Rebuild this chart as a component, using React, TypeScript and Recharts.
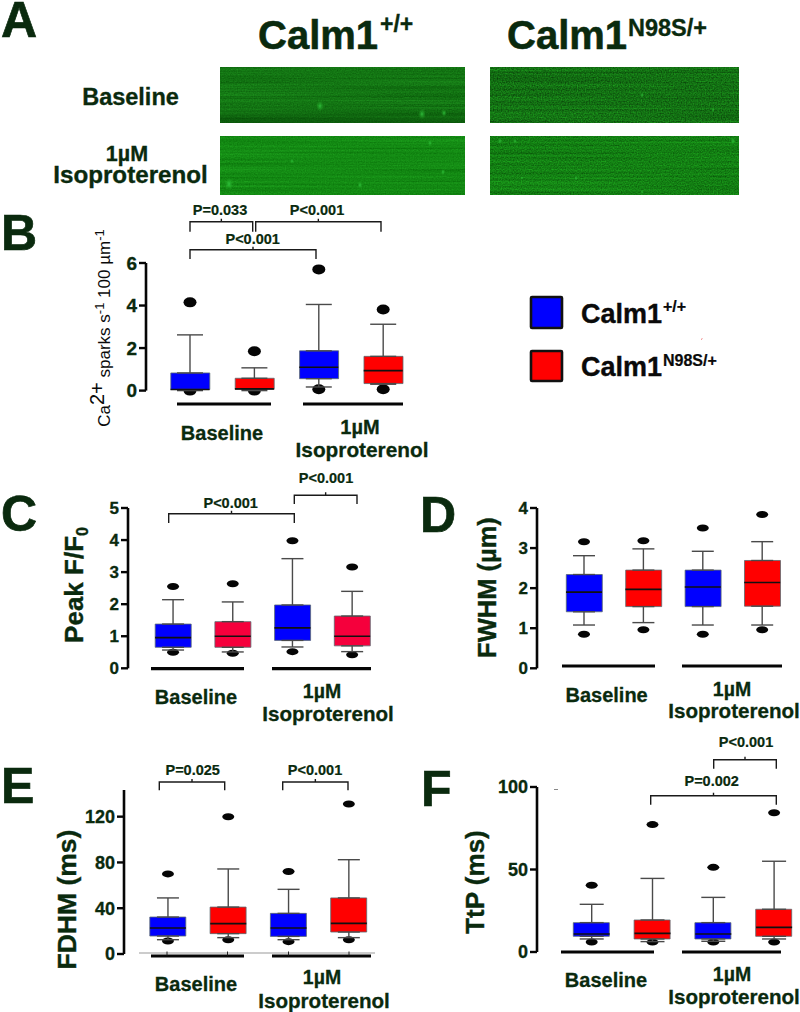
import React from 'react';
import { ComposedChart, Bar, Cell, Line, XAxis, YAxis, ErrorBar } from 'recharts';

const INK = '#0a2a0e';
const FONT = '"Liberation Sans", Arial, sans-serif';
const BLUE = '#0000ff';
const RED = '#ff0000';
const CRIMSON = '#f5003c';

const groups = ['Baseline +/+', 'Baseline N98S/+', 'Iso +/+', 'Iso N98S/+'];

// B: Ca2+ sparks
const sparkQ1 = [0.05, 0.06, 0.56, 0.33];
const sparkMedian = [0.05, 0.08, 1.1, 0.94];
const sparkQ3 = [0.83, 0.58, 1.87, 1.61];
const sparkLow = [0, 0, 0.17, 0.3];
const sparkHigh = [2.62, 1.07, 4.05, 3.12];
const sparkOutLow = [0, 0, 0.06, 0.06];
const sparkOutHigh = [4.15, 1.85, 5.7, 3.81];

// C: Peak F/F0
const peakQ1 = [0.655, 0.655, 0.87, 0.7];
const peakMedian = [0.956, 1.0, 1.26, 1.0];
const peakQ3 = [1.38, 1.455, 1.975, 1.63];
const peakLow = [0.57, 0.51, 0.665, 0.52];
const peakHigh = [2.14, 2.07, 3.42, 2.4];
const peakOutLow = [0.5, 0.47, 0.52, 0.42];
const peakOutHigh = [2.55, 2.64, 3.98, 3.16];

// D: FWHM
const fwhmQ1 = [1.41, 1.54, 1.54, 1.55];
const fwhmMedian = [1.9, 1.97, 2.03, 2.14];
const fwhmQ3 = [2.34, 2.45, 2.45, 2.69];
const fwhmLow = [1.08, 1.14, 1.08, 1.08];
const fwhmHigh = [2.81, 2.98, 2.92, 3.16];
const fwhmOutLow = [0.85, 0.96, 0.85, 0.96];
const fwhmOutHigh = [3.16, 3.185, 3.5, 3.84];

// E: FDHM
const fdhmQ1 = [15.7, 17.8, 15.4, 19.2];
const fdhmMedian = [22.7, 26.5, 22.7, 26.8];
const fdhmQ3 = [32.3, 41, 35.5, 49];
const fdhmLow = [12.5, 14.3, 12.5, 14.3];
const fdhmHigh = [49, 74.3, 56.5, 82.4];
const fdhmOutLow = [11.4, 12.5, 10.8, 12.5];
const fdhmOutHigh = [70, 120, 72, 131];

// F: TtP
const ttpQ1 = [9.5, 7.9, 7.9, 9.5];
const ttpMedian = [10.9, 11.3, 10.9, 14.9];
const ttpQ3 = [17.8, 19.4, 17.8, 25.9];
const ttpLow = [7.9, 6.3, 6.5, 7.9];
const ttpHigh = [28.9, 44.6, 33.1, 55];
const ttpOutLow = [6.1, 6, 6.1, 6];
const ttpOutHigh = [40.4, 77.2, 51.3, 84.4];

const makeRows = (q1, median, q3, low, high, outLow, outHigh) =>
  groups.map((group, i) => ({
    group,
    box: [q1[i], q3[i]],
    q1: q1[i],
    q3: q3[i],
    median: median[i],
    lowerWhisker: [q1[i] - low[i], 0],
    upperWhisker: [0, high[i] - q3[i]],
    outLow: outLow[i],
    outHigh: outHigh[i],
  }));

const panels = [
  {
    id: 'B', rows: makeRows(sparkQ1, sparkMedian, sparkQ3, sparkLow, sparkHigh, sparkOutLow, sparkOutHigh),
    domain: [0, 6], ticks: [0, 2, 4, 6], axisX: 146, top: 262.7, bottom: 390.3, band: 64.4, pad: 11.8,
    boxW: 39, cap: 13, rx: 6.5, ry: 5, fontSize: 19, fills: [BLUE, RED, BLUE, RED],
  },
  {
    id: 'C', rows: makeRows(peakQ1, peakMedian, peakQ3, peakLow, peakHigh, peakOutLow, peakOutHigh),
    domain: [0, 5], ticks: [0, 1, 2, 3, 4, 5], axisX: 128, top: 507.7, bottom: 668, band: 59.7, pad: 15.2,
    boxW: 36, cap: 11, rx: 6, ry: 3.5, fontSize: 17, fills: [BLUE, CRIMSON, BLUE, CRIMSON],
  },
  {
    id: 'D', rows: makeRows(fwhmQ1, fwhmMedian, fwhmQ3, fwhmLow, fwhmHigh, fwhmOutLow, fwhmOutHigh),
    domain: [0, 4], ticks: [0, 1, 2, 3, 4], axisX: 537, top: 507.7, bottom: 668, band: 59.4, pad: 17.3,
    boxW: 36, cap: 11, rx: 6, ry: 3.5, fontSize: 17, fills: [BLUE, RED, BLUE, RED],
  },
  {
    id: 'E', rows: makeRows(fdhmQ1, fdhmMedian, fdhmQ3, fdhmLow, fdhmHigh, fdhmOutLow, fdhmOutHigh),
    domain: [0, 143.3], ticks: [0, 40, 80, 120], axisX: 124, top: 790, bottom: 954, band: 60.3, pad: 13.8,
    boxW: 36, cap: 11, rx: 6, ry: 3.5, fontSize: 18, fills: [BLUE, RED, BLUE, RED],
  },
  {
    id: 'F', rows: makeRows(ttpQ1, ttpMedian, ttpQ3, ttpLow, ttpHigh, ttpOutLow, ttpOutHigh),
    domain: [0, 100], ticks: [0, 50, 100], axisX: 537, top: 787, bottom: 952, band: 60.8, pad: 24.3,
    boxW: 36, cap: 12, rx: 6, ry: 3.5, fontSize: 18, fills: [BLUE, RED, BLUE, RED],
  },
];

const AXIS_W = 50;
const layer = { position: 'absolute', left: 0, top: 0 };

const BoxPanel = ({ p }) => {
  const outlier = (props) => (
    <ellipse key={props.index} cx={props.cx} cy={props.cy} rx={p.rx} ry={p.ry} fill="#050505" />
  );
  const medianTick = (props) => (
    <line key={props.index} x1={props.cx - p.boxW / 2} x2={props.cx + p.boxW / 2} y1={props.cy} y2={props.cy} stroke="#111" strokeWidth={1.6} />
  );
  const height = p.bottom - p.top + 20;
  const width = AXIS_W + p.pad + p.band * 4 + 5;
  const xAxis = <XAxis dataKey="group" hide scale="band" padding={{ left: p.pad, right: 0 }} />;
  return (
    <div style={{ position: 'absolute', left: p.axisX - AXIS_W, top: p.top - 10 }}>
      {/* outliers sit in their own layer so the boxes cover them, lines always paint above bars */}
      <div style={layer}>
        <ComposedChart width={width} height={height} data={p.rows} margin={{ top: 10, right: 5, bottom: 10, left: AXIS_W }}>
          {xAxis}
          <YAxis hide type="number" domain={p.domain} />
          <Line dataKey="outHigh" stroke="none" dot={outlier} activeDot={false} isAnimationActive={false} />
          <Line dataKey="outLow" stroke="none" dot={outlier} activeDot={false} isAnimationActive={false} />
        </ComposedChart>
      </div>
      <div style={layer}>
        <ComposedChart width={width} height={height} data={p.rows} margin={{ top: 10, right: 5, bottom: 10, left: 0 }}>
          {xAxis}
          <YAxis
            width={AXIS_W}
            type="number"
            domain={p.domain}
            ticks={p.ticks}
            interval={0}
            tickSize={7}
            tickMargin={2}
            axisLine={{ stroke: '#050505', strokeWidth: 2.6 }}
            tickLine={{ stroke: '#050505', strokeWidth: 2.4 }}
            tick={{ fill: INK, stroke: INK, strokeWidth: 0.3, fontSize: p.fontSize, fontWeight: 700, fontFamily: FONT }}
          />
          <Bar dataKey="box" barSize={p.boxW} stroke="#5a6a70" strokeWidth={0.8} isAnimationActive={false}>
            {p.rows.map((r, i) => (
              <Cell key={r.group} fill={p.fills[i]} />
            ))}
          </Bar>
          <Line dataKey="q3" stroke="none" dot={false} activeDot={false} isAnimationActive={false}>
            <ErrorBar dataKey="upperWhisker" direction="y" width={p.cap} stroke="#4a4a4a" strokeWidth={1.4} isAnimationActive={false} />
          </Line>
          <Line dataKey="q1" stroke="none" dot={false} activeDot={false} isAnimationActive={false}>
            <ErrorBar dataKey="lowerWhisker" direction="y" width={p.cap} stroke="#4a4a4a" strokeWidth={1.4} isAnimationActive={false} />
          </Line>
          <Line dataKey="median" stroke="none" dot={medianTick} activeDot={false} isAnimationActive={false} />
        </ComposedChart>
      </div>
    </div>
  );
};

const Txt = ({ x, y, size = 14.5, anchor = 'middle', fill = INK, weight = 700, children, ...rest }) => (
  <text
    x={x}
    y={y}
    fontSize={size}
    textAnchor={anchor}
    fill={fill}
    fontWeight={weight}
    fontFamily={FONT}
    stroke={weight === 700 ? fill : 'none'}
    strokeWidth={size * 0.014}
    {...rest}
  >
    {children}
  </text>
);

const Bracket = ({ x1, x2, top, drop, label, labelX, labelY }) => (
  <g>
    <path d={`M${x1} ${drop}V${top}H${x2}V${drop}M${(x1 + x2) / 2} ${top}v-3`} fill="none" stroke="#1a1a1a" strokeWidth={1.4} />
    <Txt x={labelX} y={labelY}>{label}</Txt>
  </g>
);

const GroupLabels = ({ base, baseY, mum, mumY, iso, isoY }) => (
  <g>
    <Txt x={base} y={baseY} size={20}>Baseline</Txt>
    <Txt x={mum} y={mumY} size={19.5}>1µM</Txt>
    <Txt x={iso} y={isoY} size={20.6}>Isoproterenol</Txt>
  </g>
);

const GroupRule = ({ x1, x2, y }) => <line x1={x1} x2={x2} y1={y} y2={y} stroke="#050505" strokeWidth={3.2} />;

const spotsByScan = [
  [[320, 106, 5], [422, 114, 5], [444, 113, 3.5]],
  [[642, 95, 2.5], [713, 110, 2]],
  [[430, 143, 3], [292, 161, 2.5], [443, 172, 3], [229, 184, 6], [360, 185, 3.5]],
  [[500, 141, 3], [515, 141, 2.5], [733, 141, 3.5], [576, 178, 2.5], [522, 178, 1.8], [642, 192, 2]],
];

const scans = [
  { x: 220, y: 67, w: 245, h: 56, seed: 3, target: 0.46, gain: 0.4, streak: 0.5, shade: true },
  { x: 490, y: 67, w: 249, h: 56, seed: 8, target: 0.44, gain: 0.7, streak: 0.35, shade: false },
  { x: 220, y: 136, w: 245, h: 59, seed: 12, target: 0.54, gain: 0.35, streak: 0.5, shade: false },
  { x: 490, y: 136, w: 249, h: 59, seed: 21, target: 0.5, gain: 0.6, streak: 0.35, shade: false },
];

const LineScan = ({ scan, spots, i }) => (
  <g>
    <defs>
      <filter id={`scan${i}`} x="0" y="0" width="1" height="1" colorInterpolationFilters="sRGB">
        <feTurbulence type="fractalNoise" baseFrequency="0.003 0.5" numOctaves={2} seed={scan.seed} result="s" />
        <feTurbulence type="fractalNoise" baseFrequency="0.75" numOctaves={1} seed={scan.seed + 1} result="n" />
        <feComposite in="s" in2="n" operator="arithmetic" k1={0} k2={scan.streak} k3={1 - scan.streak} k4={0} result="m" />
        <feColorMatrix
          in="m"
          type="matrix"
          values={`0 0.15 0 0 0  0 ${scan.gain} 0 0 ${scan.target - scan.gain * 0.5}  0 0.15 0 0 0  0 0 0 0 1`}
        />
      </filter>
    </defs>
    <rect x={scan.x} y={scan.y} width={scan.w} height={scan.h} fill="#128012" filter={`url(#scan${i})`} />
    {scan.shade && <rect x={scan.x} y={scan.y + scan.h - 16} width={scan.w} height={16} fill="url(#scanShade)" />}
    {spots.map(([cx, cy, r]) => (
      <ellipse key={`${cx}-${cy}`} cx={cx} cy={cy} rx={r * 0.8} ry={r * 1.1} fill="url(#spot)" />
    ))}
  </g>
);

const Overlay = () => (
  <svg width={800} height={1012} style={{ position: 'absolute', left: 0, top: 0 }}>
    <defs>
      <radialGradient id="spot">
        <stop offset="0%" stopColor="#35d045" stopOpacity={0.8} />
        <stop offset="100%" stopColor="#20a020" stopOpacity={0} />
      </radialGradient>
      <linearGradient id="scanShade" x1="0" y1="0" x2="0" y2="1">
        <stop offset="0%" stopColor="#003000" stopOpacity={0} />
        <stop offset="100%" stopColor="#003000" stopOpacity={0.4} />
      </linearGradient>
    </defs>

    <Txt x={1} y={37} size={50} anchor="start">A</Txt>
    <Txt x={1} y={250} size={50} anchor="start">B</Txt>
    <Txt x={1} y={531} size={50} anchor="start">C</Txt>
    <Txt x={420} y={532} size={50} anchor="start">D</Txt>
    <Txt x={1} y={803} size={50} anchor="start">E</Txt>
    <Txt x={421} y={806} size={50} anchor="start">F</Txt>

    <Txt x={258} y={49} size={40} anchor="start">Calm1</Txt>
    <Txt x={380} y={32} size={23} anchor="start">+/+</Txt>
    <Txt x={507} y={49} size={40} anchor="start">Calm1</Txt>
    <Txt x={628} y={36} size={23.5} anchor="start">N98S/+</Txt>

    <Txt x={130.5} y={105} size={23.5}>Baseline</Txt>
    <Txt x={127} y={160.5} size={21.5}>1µM</Txt>
    <Txt x={130.5} y={183} size={24.2}>Isoproterenol</Txt>

    {scans.map((s, i) => (
      <LineScan key={s.seed} scan={s} spots={spotsByScan[i]} i={i} />
    ))}

    {/* legend */}
    <rect x={531} y={297} width={31} height={31} fill={BLUE} stroke="#111" strokeWidth={2.6} rx={1} />
    <rect x={531} y={351} width={31} height={30} fill={RED} stroke="#111" strokeWidth={2.6} rx={1} />
    <Txt x={581} y={322.5} size={27} anchor="start" fill="#0a0a0a">Calm1</Txt>
    <Txt x={663} y={312} size={16} anchor="start" fill="#0a0a0a">+/+</Txt>
    <Txt x={581} y={376} size={27} anchor="start" fill="#0a0a0a">Calm1</Txt>
    <Txt x={663} y={366} size={16} anchor="start" fill="#0a0a0a">N98S/+</Txt>
    <line x1={701.3} x2={702.3} y1={340} y2={338} stroke="#f08080" strokeWidth={0.8} />

    {/* panel B */}
    <Bracket x1={190} x2={252.7} top={221.7} drop={231.7} label="P=0.033" labelX={220} labelY={215} />
    <Bracket x1={255.7} x2={381} top={221.7} drop={231.7} label="P<0.001" labelX={317} labelY={215} />
    <Bracket x1={190} x2={316} top={249.7} drop={259} label="P<0.001" labelX={252.7} labelY={244} />
    <GroupRule x1={177} x2={271} y={404} />
    <GroupRule x1={303} x2={403} y={404} />
    <Txt x={222} y={440} size={20}>Baseline</Txt>
    <Txt x={360} y={434} size={20}>1µM</Txt>
    <Txt x={362} y={457} size={20.8}>Isoproterenol</Txt>
    <Txt x={110} y={328} size={17} weight={400} fill="#0a0a0a" transform="rotate(-90 110 328)">
      Ca<tspan fontSize={20} dy={-6}>2+</tspan><tspan dy={6}> sparks s</tspan><tspan fontSize={13} dy={-6}>-1</tspan><tspan dy={6}> 100 µm</tspan><tspan fontSize={13} dy={-6}>-1</tspan>
    </Txt>

    {/* panel C */}
    <Bracket x1={168.7} x2={294.3} top={513.7} drop={523} label="P<0.001" labelX={230.7} labelY={507.7} />
    <Bracket x1={294.3} x2={357} top={495.3} drop={504} label="P<0.001" labelX={326} labelY={483.3} />
    <GroupRule x1={151} x2={244} y={668.7} />
    <GroupRule x1={272} x2={371} y={668.7} />
    <GroupLabels base={196} baseY={704} mum={322} mumY={698} iso={328} isoY={721} />
    <Txt x={83} y={585} size={26} transform="rotate(-90 83 585)">
      Peak F/F<tspan fontSize={16} dy={5}>0</tspan>
    </Txt>

    {/* panel D */}
    <GroupRule x1={562} x2={655} y={666} />
    <GroupRule x1={682} x2={782} y={666} />
    <GroupLabels base={606.6} baseY={702} mum={732} mumY={696} iso={734} isoY={718} />
    <Txt x={496} y={587.5} size={25.5} transform="rotate(-90 496 587.5)">FWHM (µm)</Txt>

    {/* panel E */}
    <Bracket x1={159.3} x2={224.7} top={782} drop={790.3} label="P=0.025" labelX={192.7} labelY={775.3} />
    <Bracket x1={282.7} x2={348} top={782} drop={790.3} label="P<0.001" labelX={315} labelY={775.3} />
    <line x1={139} x2={375} y1={953} y2={953} stroke="#9a9a9a" strokeWidth={1.2} />
    <GroupRule x1={151} x2={244} y={956} />
    <GroupRule x1={272} x2={371} y={956} />
    <path d="M167 951.5v4M227.5 951.5v4M288.5 951.5v4M349 951.5v4" stroke="#222" strokeWidth={1} />
    <GroupLabels base={196} baseY={991} mum={322} mumY={984} iso={324} isoY={1008} />
    <Txt x={76} y={899.5} size={26.5} transform="rotate(-90 76 899.5)">FDHM (ms)</Txt>

    {/* panel F */}
    <Bracket x1={650.7} x2={776.3} top={795.7} drop={804.7} label="P=0.002" labelX={711.7} labelY={785.7} />
    <Bracket x1={713.7} x2={776.3} top={759.7} drop={768.7} label="P<0.001" labelX={746} labelY={747.3} />
    <line x1={554} x2={558} y1={789.5} y2={789.5} stroke="#888" strokeWidth={1} />
    <GroupRule x1={561} x2={654} y={952} />
    <GroupRule x1={682} x2={781} y={952} />
    <GroupLabels base={606} baseY={987} mum={732} mumY={981} iso={734} isoY={1004} />
    <Txt x={484} y={882} size={26} transform="rotate(-90 484 882)">TtP (ms)</Txt>
  </svg>
);

export default function App() {
  return (
    <div style={{ position: 'absolute', left: 0, top: 0, width: 800, height: 1012, background: '#fff', overflow: 'hidden' }}>
      <Overlay />
      {panels.map((p) => (
        <BoxPanel key={p.id} p={p} />
      ))}
    </div>
  );
}
